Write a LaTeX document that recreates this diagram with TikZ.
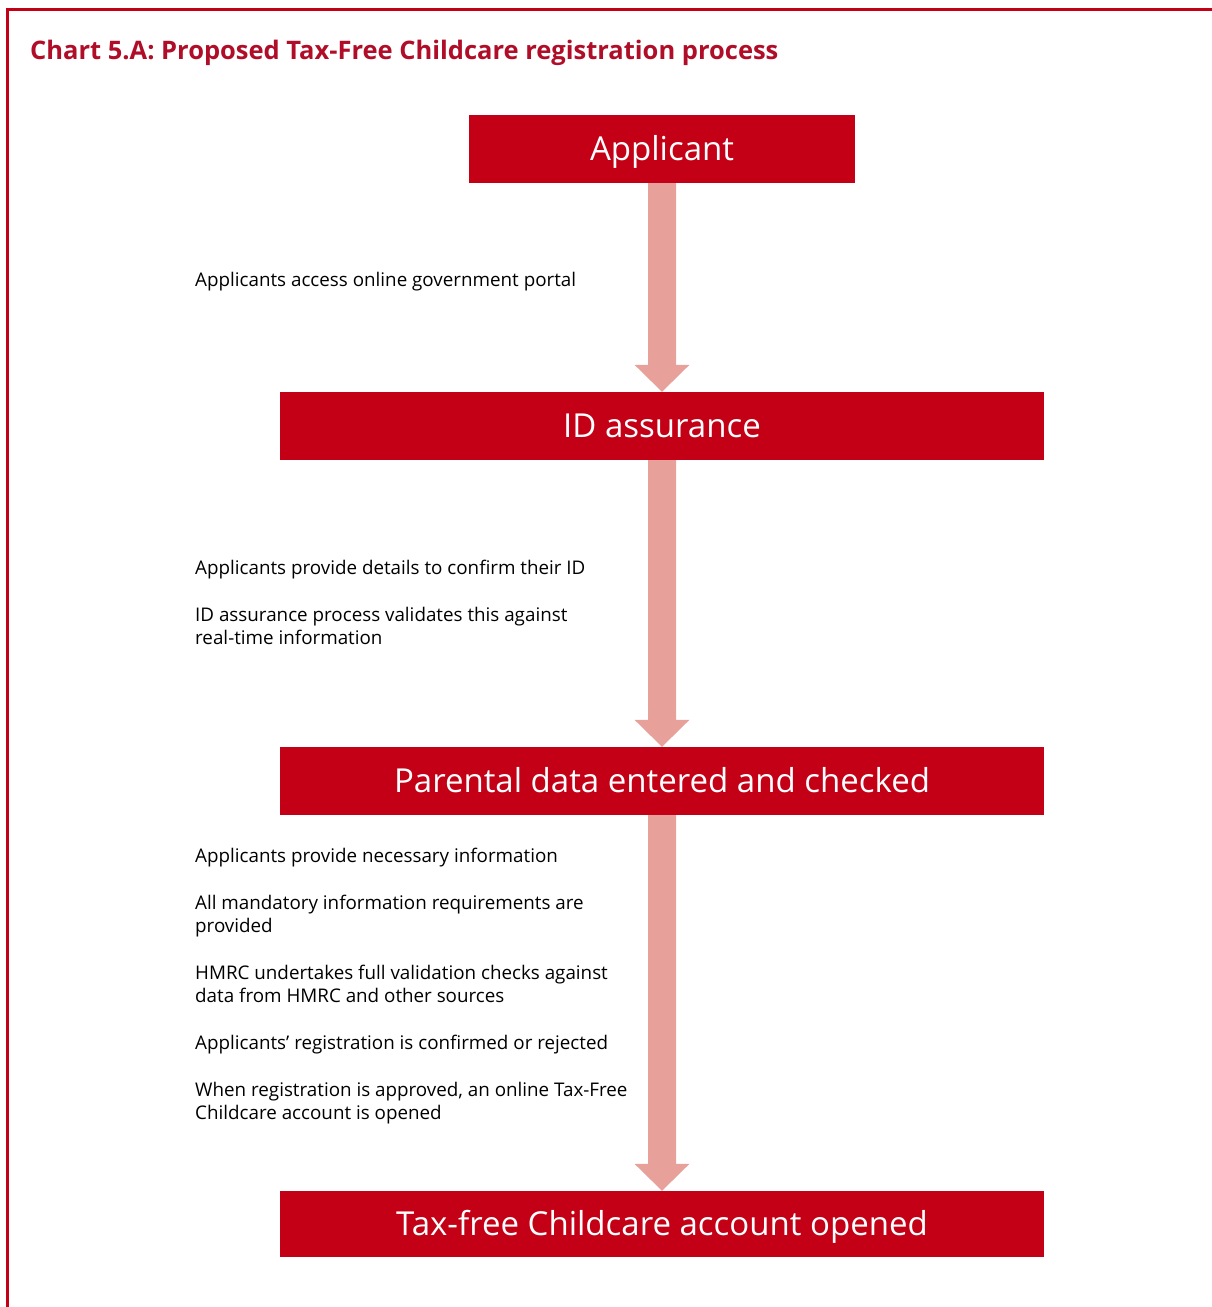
\documentclass[tikz,border=0pt]{standalone}
\usepackage{fontspec}
\setmainfont{Open Sans}
\usetikzlibrary{calc}
\definecolor{boxred}{RGB}{196,0,22}
\definecolor{arrowpink}{RGB}{232,160,154}
\definecolor{titlered}{RGB}{176,14,40}
\begin{document}
\begin{tikzpicture}[x=1pt,y=-1pt,
  stepbox/.style={fill=boxred, text=white, inner sep=0pt, font=\fontsize{33}{38}\selectfont,
     minimum height=68pt, text height=29pt, text depth=7pt},
  note/.style={anchor=base west, align=left, inner sep=0pt, font=\fontsize{18.8}{23}\selectfont},
  flow/.style={fill=arrowpink}]
\useasboundingbox (0,0) rectangle (1212,1307);
% frame
\draw[boxred, line width=3pt] (7.5,1307) -- (7.5,9.5) -- (1212,9.5);
% title
\node[anchor=base west, inner sep=0pt, text=titlered, font=\fontsize{25.5}{29}\selectfont\bfseries] (title) at (30,59) {Chart 5.A: Proposed Tax-Free Childcare registration process};
% boxes
\node[stepbox, minimum width=386pt] (app) at (662,149) {Applicant};
\node[stepbox, minimum width=764pt] (id) at (662,426) {ID assurance};
\node[stepbox, minimum width=764pt] (par) at (662,781) {Parental data entered and checked};
\node[stepbox, minimum width=764pt, minimum height=66pt] (tax) at (662,1224) {Tax-free Childcare account opened};
% arrows
\foreach \s/\t in {app/id, id/par, par/tax}{
  \fill[flow] ($(\s.south)+(-14,0)$) -- ($(\t.north)+(-14,-27)$) -- ($(\t.north)+(-27.5,-27)$)
     -- (\t.north) -- ($(\t.north)+(27.5,-27)$) -- ($(\t.north)+(14,-27)$) -- ($(\s.south)+(14,0)$) -- cycle;
}
% notes (multi-line nodes are placed by the baseline of their last line)
\node[note] (n1) at (195,286) {Applicants access online government portal};
\node[note] (n2) at (195,574) {Applicants provide details to confirm their ID};
\node[note] (n3) at (195,644) {ID assurance process validates this against\\real-time information};
\node[note] (n4) at (195,862) {Applicants provide necessary information};
\node[note] (n5) at (195,932) {All mandatory information requirements are\\provided};
\node[note] (n6) at (195,1002) {HMRC undertakes full validation checks against\\data from HMRC and other sources};
\node[note] (n7) at (195,1049) {Applicants’ registration is confirmed or rejected};
\node[note] (n8) at (195,1119) {When registration is approved, an online Tax-Free\\Childcare account is opened};
\end{tikzpicture}
\end{document}
